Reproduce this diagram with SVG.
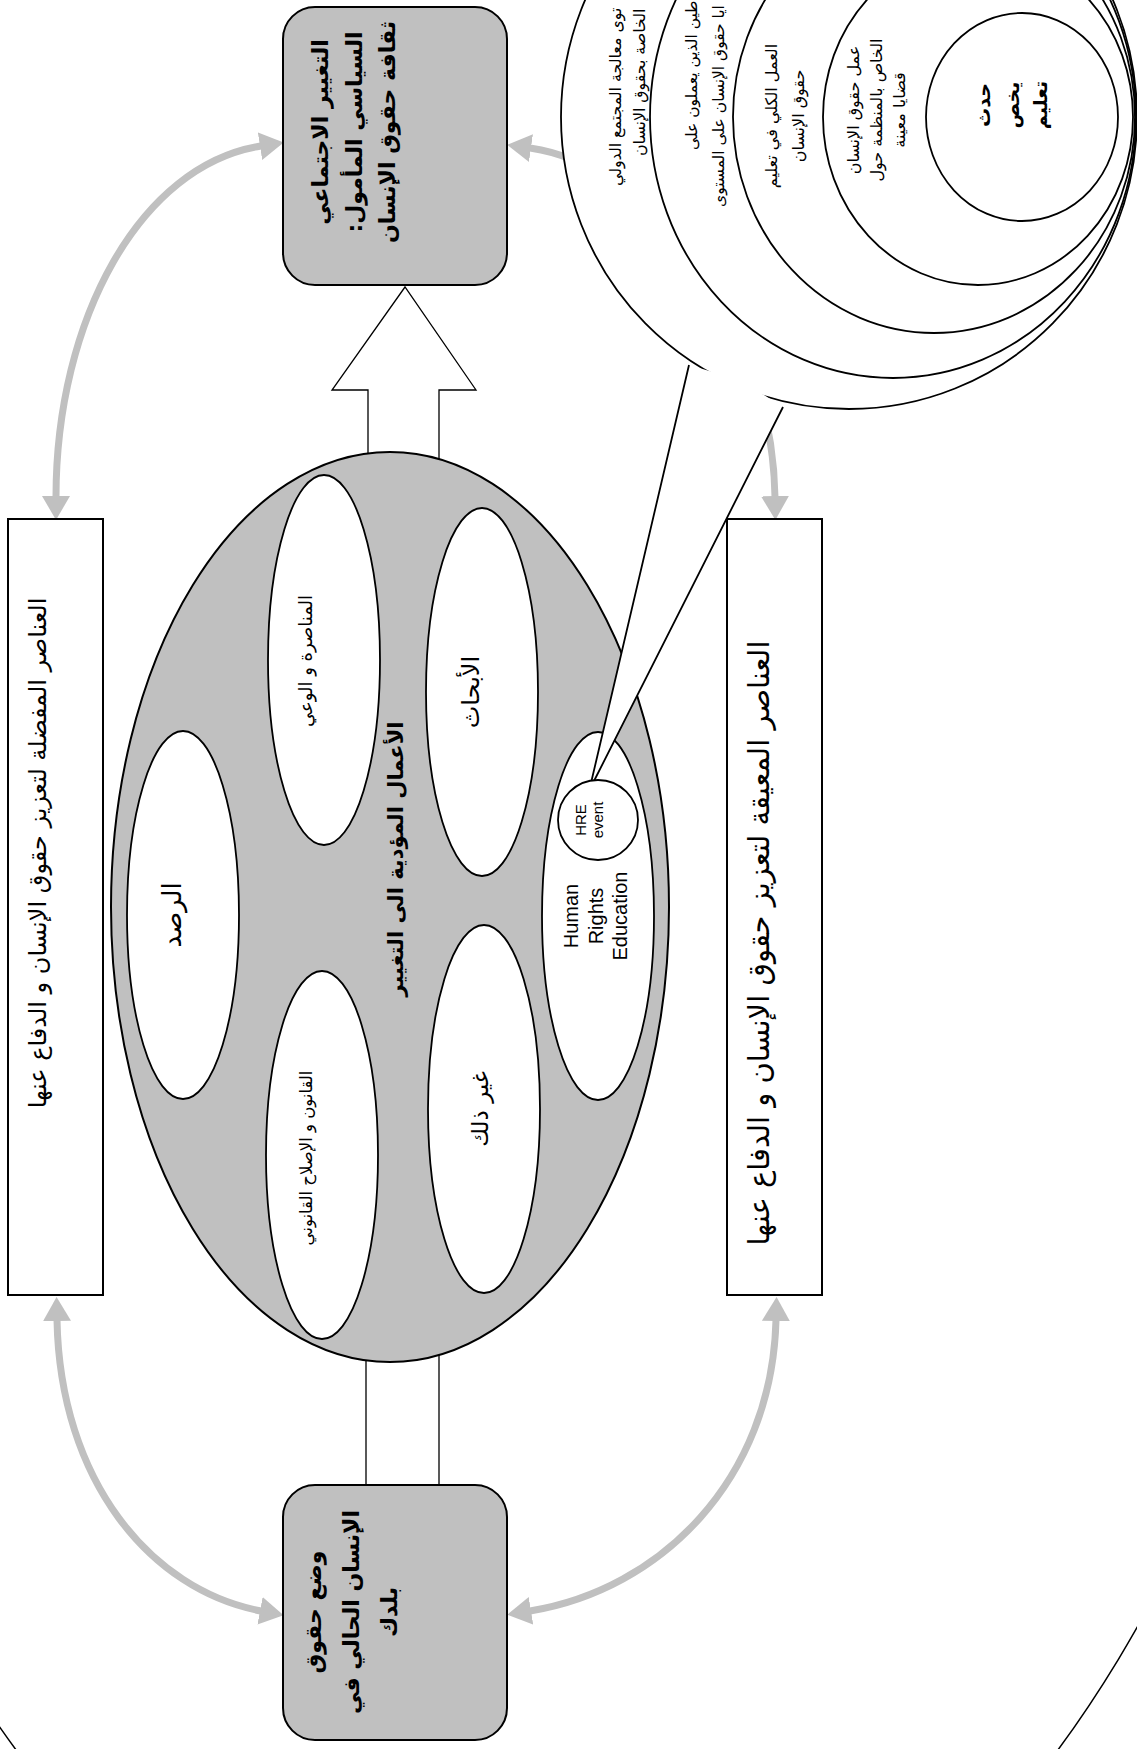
<svg xmlns="http://www.w3.org/2000/svg" width="1137" height="1749" viewBox="0 0 1137 1749">
<defs>
<style>
.ar{font-family:"DejaVu Sans","Noto Sans",sans-serif;fill:#000}
.b{font-weight:bold}
.en{font-family:"Liberation Sans",Arial,sans-serif;fill:#000}
.gbox{fill:#c0c0c0;stroke:#000;stroke-width:2}
.wbox{fill:#fff;stroke:#000;stroke-width:2}
.ell{fill:#fff;stroke:#000;stroke-width:1.8}
.garrow{fill:none;stroke:#c0c0c0;stroke-width:7;marker-start:url(#ah);marker-end:url(#ah)}
.thin{fill:#fff;stroke:#000;stroke-width:1.3}
</style>
<marker id="ah" markerUnits="userSpaceOnUse" viewBox="0 0 24 28" markerWidth="24" markerHeight="28" refX="1" refY="14" orient="auto-start-reverse"><path d="M0,0 L24,14 L0,28 z" fill="#c0c0c0"/></marker>
</defs>
<rect x="0" y="0" width="1137" height="1749" fill="#fff"/>
<g id="connectors">
<path class="garrow" d="M56,497 C56,320 140,165 261,146"/>
<path class="garrow" d="M530,148 C650,165 772,320 775,497"/>
<path class="garrow" d="M57,1320 C60,1480 150,1590 261,1611"/>
<path class="garrow" d="M776,1320 C772,1480 660,1590 530,1611"/>
<polygon class="thin" points="368,480 368,390 332,390 405,287 476,390 439,390 439,480"/>
<rect class="thin" x="366" y="1330" width="73" height="157"/>
</g>
<ellipse id="outer-border" cx="537" cy="700" rx="822" ry="1357" fill="none" stroke="#000" stroke-width="1.5"/>
<g id="box-goal">
<rect class="gbox" x="283" y="7" width="224" height="278" rx="32"/>
<text class="ar b" font-size="22" text-anchor="middle" direction="rtl" transform="translate(328,132) rotate(-90)"><tspan x="0" y="0">التغيير الاجتماعي</tspan><tspan x="0" y="33.5">السياسي المأمول:</tspan><tspan x="0" y="67">ثقافة حقوق الإنسان</tspan></text>
</g>
<g id="box-current">
<rect class="gbox" x="283" y="1485" width="224" height="255" rx="32"/>
<text class="ar b" font-size="22" text-anchor="middle" direction="rtl" transform="translate(321,1612) rotate(-90)"><tspan x="0" y="0">وضع حقوق</tspan><tspan x="0" y="38">الإنسان الحالي في</tspan><tspan x="0" y="76">بلدك</tspan></text>
</g>
<g id="box-favorable">
<rect class="wbox" x="8" y="519" width="95" height="776"/>
<text class="ar" font-size="24" text-anchor="middle" direction="rtl" transform="translate(46,853) rotate(-90)">العناصر المفضلة لتعزيز حقوق الإنسان و الدفاع عنها</text>
</g>
<g id="box-obstacles">
<rect class="wbox" x="727" y="519" width="95" height="776"/>
<text class="ar" font-size="29" text-anchor="middle" direction="rtl" transform="translate(769,943) rotate(-90)">العناصر المعيقة لتعزيز حقوق الإنسان و الدفاع عنها</text>
</g>
<g id="actions">
<ellipse cx="390" cy="907" rx="279" ry="455" fill="#c0c0c0" stroke="#000" stroke-width="2"/>
<text class="ar b" font-size="21" text-anchor="middle" direction="rtl" transform="translate(403,859) rotate(-90)">الأعمال المؤدية الى التغيير</text>
</g>
<g id="advocacy">
<ellipse class="ell" cx="324" cy="660" rx="56" ry="185"/>
<text class="ar" font-size="18" text-anchor="middle" direction="rtl" transform="translate(312,661) rotate(-90)">المناصرة و الوعي</text>
</g>
<g id="research">
<ellipse class="ell" cx="482" cy="692" rx="56" ry="184"/>
<text class="ar" font-size="24" text-anchor="middle" direction="rtl" transform="translate(479,692) rotate(-90)">الأبحاث</text>
</g>
<g id="monitoring">
<ellipse class="ell" cx="183" cy="915" rx="56" ry="184"/>
<text class="ar" font-size="26" text-anchor="middle" direction="rtl" transform="translate(181,915) rotate(-90)">الرصد</text>
</g>
<g id="law">
<ellipse class="ell" cx="322" cy="1155" rx="56" ry="184"/>
<text class="ar" font-size="16.5" text-anchor="middle" direction="rtl" transform="translate(312,1158) rotate(-90)">القانون و الإصلاح القانوني</text>
</g>
<g id="other">
<ellipse class="ell" cx="484" cy="1109" rx="56" ry="184"/>
<text class="ar" font-size="23" text-anchor="middle" direction="rtl" transform="translate(488,1109) rotate(-90)">غير ذلك</text>
</g>
<g id="hre">
<ellipse class="ell" cx="598" cy="916" rx="56" ry="184"/>
<text class="en" font-size="20" text-anchor="middle" transform="translate(578,916) rotate(-90)"><tspan x="0" y="0">Human</tspan><tspan x="0" y="24.5">Rights</tspan><tspan x="0" y="49">Education</tspan></text>
</g>
<g id="level-international">
<ellipse class="ell" cx="849" cy="117" rx="288" ry="292"/>
<polygon points="591,783 689,365 740,380 783,407 594,781" fill="#fff" stroke="none"/>
<path d="M591,783 L689,365 M594,781 L783,407" fill="none" stroke="#000" stroke-width="1.8"/>
<text class="ar" font-size="15.8" transform="translate(621,186) rotate(-90)">توى معالجة المجتمع الدولي</text>
<text class="ar" font-size="15.8" transform="translate(645,156) rotate(-90)">الخاصة بحقوق الإنسان</text>
</g>
<g id="level-national">
<ellipse class="ell" cx="893" cy="117" rx="243" ry="261"/>
<text class="ar" font-size="15.5" transform="translate(697,150) rotate(-90)">طين الذين يعملون على</text>
<text class="ar" font-size="15.5" transform="translate(724,207) rotate(-90)">ايا حقوق الإنسان على المستوى</text>
</g>
<g id="level-org-hre">
<ellipse class="ell" cx="934" cy="117" rx="201" ry="216"/>
<text class="ar" font-size="16" text-anchor="middle" direction="rtl" transform="translate(777,116) rotate(-90)"><tspan x="0" y="0">العمل الكلي في تعليم</tspan><tspan x="0" y="27">حقوق الإنسان</tspan></text>
</g>
<g id="level-org-issues">
<ellipse class="ell" cx="978" cy="117" rx="155" ry="168"/>
<text class="ar" font-size="16" text-anchor="middle" direction="rtl" transform="translate(859,110) rotate(-90)"><tspan x="0" y="0">عمل حقوق الإنسان</tspan><tspan x="0" y="23">الخاص بالمنظمة حول</tspan><tspan x="0" y="46">قضايا معينة</tspan></text>
</g>
<g id="level-event">
<ellipse class="ell" cx="1022" cy="117" rx="96" ry="104"/>
<text class="ar b" font-size="19" text-anchor="middle" direction="rtl" transform="translate(990,105) rotate(-90)"><tspan x="0" y="0">حدث</tspan><tspan x="0" y="29">يخص</tspan><tspan x="0" y="57">تعليم</tspan></text>
</g>
<g id="hre-event">
<circle class="ell" cx="598" cy="820" r="40"/>
<text class="en" font-size="15" text-anchor="middle" transform="translate(586,820) rotate(-90)"><tspan x="0" y="0">HRE</tspan><tspan x="0" y="16.5">event</tspan></text>
</g>
</svg>
